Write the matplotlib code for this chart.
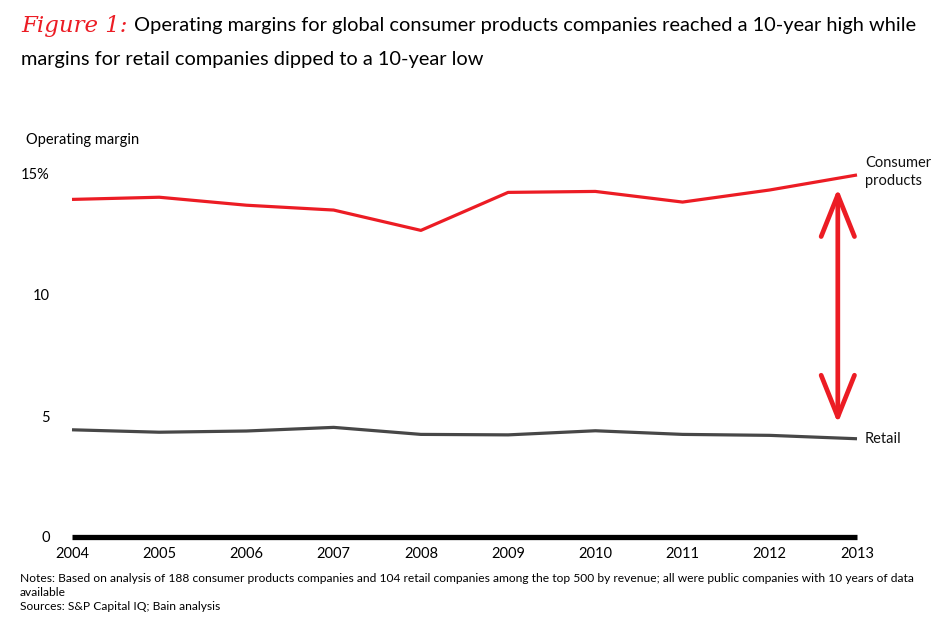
import numpy as np
import matplotlib
matplotlib.use('Agg')
import matplotlib.pyplot as plt

plt.rcParams['font.family'] = ['Lato', 'DejaVu Sans']

# Data
years = [2004, 2005, 2006, 2007, 2008, 2009, 2010, 2011, 2012, 2013]
consumer_products = [13.95, 14.04, 13.71, 13.51, 12.67, 14.24, 14.28, 13.84, 14.34, 14.96]
retail = [4.43, 4.33, 4.38, 4.53, 4.24, 4.22, 4.39, 4.24, 4.20, 4.06]
y_ticks = [0, 5, 10, 15]
y_tick_labels = ['0', '5', '10', '15%']

RED = '#ec1c24'
GREY = '#474747'

fig = plt.figure(figsize=(9.5, 6.36), dpi=100)
ax = fig.add_axes([72 / 950, 1 - 537 / 636, (857 - 72) / 950, (537 - 174) / 636])

ax.plot(years, consumer_products, color=RED, lw=2.3, clip_on=False, solid_capstyle='butt')
ax.plot(years, retail, color=GREY, lw=2.3, clip_on=False, solid_capstyle='butt')
ax.axhline(0, color='black', lw=3.8, clip_on=False, solid_capstyle='butt')

ax.set_xlim(years[0], years[-1])
ax.set_ylim(0, 15)
ax.set_xticks(years)
ax.set_xticklabels([str(y) for y in years], fontsize=10.5)
ax.set_yticks(y_ticks)
ax.set_yticklabels(y_tick_labels, fontsize=10.5)
ax.tick_params(axis='both', length=0)
ax.tick_params(axis='x', pad=7)
ax.tick_params(axis='y', pad=16)
for s in ax.spines.values():
    s.set_visible(False)

# series labels at the right end
ax.text(1.01, consumer_products[-1] + 0.12, 'Consumer\nproducts', transform=ax.get_yaxis_transform(),
        fontsize=10.5, ha='left', va='center', linespacing=1.3, color='#111111')
ax.text(1.01, retail[-1], 'Retail', transform=ax.get_yaxis_transform(),
        fontsize=10.5, ha='left', va='center', color='#111111')

# hand-drawn style double arrow between the two lines
ax.annotate('', xy=(2012.78, 14.4), xytext=(2012.78, 4.7),
            arrowprops=dict(arrowstyle='<->,head_length=3.0,head_width=1.2',
                            color=RED, lw=3.4, shrinkA=0, shrinkB=0),
            annotation_clip=False)

fig.text(26 / 950, 1 - 140 / 636, 'Operating margin', fontsize=10.5, ha='left', va='center')

# title
fig.text(21 / 950, 1 - 26 / 636, 'Figure 1:', fontsize=16.5, color=RED, style='italic',
         family=['DejaVu Serif'], ha='left', va='center')
fig.text(134 / 950, 1 - 26 / 636,
         'Operating margins for global consumer products companies reached a 10-year high while',
         fontsize=14.4, ha='left', va='center')
fig.text(21 / 950, 1 - 60 / 636, 'margins for retail companies dipped to a 10-year low',
         fontsize=14.4, ha='left', va='center')

# notes
fig.text(20 / 950, 1 - 579 / 636,
         'Notes: Based on analysis of 188 consumer products companies and 104 retail companies among the top 500 '
         'by revenue; all were public companies with 10 years of data',
         fontsize=8.65, ha='left', va='center')
fig.text(20 / 950, 1 - 593 / 636, 'available', fontsize=8.65, ha='left', va='center')
fig.text(20 / 950, 1 - 607 / 636, 'Sources: S&P Capital IQ; Bain analysis', fontsize=8.65, ha='left', va='center')

fig.savefig('out.png', dpi=100)
